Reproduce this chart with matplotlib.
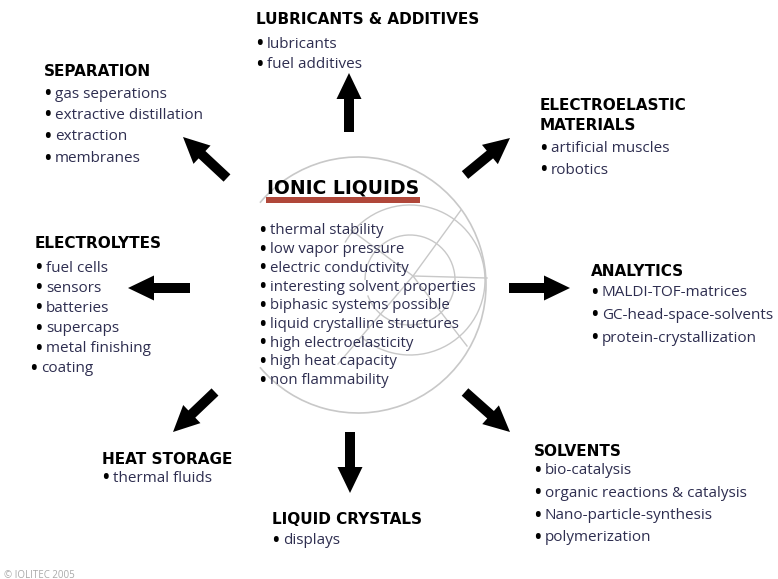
import matplotlib.pyplot as plt
from matplotlib.patches import FancyArrow, Arc, Rectangle

plt.rcParams['font.family'] = ['Open Sans', 'DejaVu Sans']

# ---- content ----
center_title = "IONIC LIQUIDS"
center_items = ["thermal stability", "low vapor pressure", "electric conductivity",
                "interesting solvent properties", "biphasic systems possible",
                "liquid crystalline structures", "high electroelasticity",
                "high heat capacity", "non flammability"]

groups = {
    "lubricants": ["LUBRICANTS & ADDITIVES"],
    "separation": ["SEPARATION"],
    "electroelastic": ["ELECTROELASTIC", "MATERIALS"],
    "electrolytes": ["ELECTROLYTES"],
    "analytics": ["ANALYTICS"],
    "heat": ["HEAT STORAGE"],
    "crystals": ["LIQUID CRYSTALS"],
    "solvents": ["SOLVENTS"],
}
items = {
    "lubricants": ["lubricants", "fuel additives"],
    "separation": ["gas seperations", "extractive distillation", "extraction", "membranes"],
    "electroelastic": ["artificial muscles", "robotics"],
    "electrolytes": ["fuel cells", "sensors", "batteries", "supercaps", "metal finishing", "coating"],
    "analytics": ["MALDI-TOF-matrices", "GC-head-space-solvents", "protein-crystallization"],
    "heat": ["thermal fluids"],
    "crystals": ["displays"],
    "solvents": ["bio-catalysis", "organic reactions & catalysis", "Nano-particle-synthesis", "polymerization"],
}

# ---- layout (pixel coordinates) ----
head_pos = {"lubricants": (256, 20), "separation": (44, 72), "electroelastic": (540, 106),
            "electrolytes": (35, 244), "analytics": (591, 271), "heat": (102, 460),
            "crystals": (272, 520), "solvents": (534, 451)}
first_item_y = {"lubricants": 44, "separation": 94, "electroelastic": 149, "electrolytes": 268,
                "analytics": 293, "heat": 478, "crystals": 541, "solvents": 471}
item_step = {"lubricants": 20.5, "separation": 21.5, "electroelastic": 21, "electrolytes": 20.2,
             "analytics": 22.5, "heat": 19, "crystals": 21, "solvents": 22.3}
# arrows: tail -> tip
arrows = [((349, 132), (349, 73)), ((227, 178), (183, 137)), ((465, 175), (510, 138)),
          ((190, 288), (128, 288)), ((509, 288), (570, 288)), ((215, 392), (173, 432)),
          ((350, 432), (350, 493)), ((465, 392), (510, 432))]

W, H = 778, 579
fig = plt.figure(figsize=(W / 100, H / 100), dpi=100)
ax = fig.add_axes([0, 0, 1, 1])
ax.set_xlim(0, W)
ax.set_ylim(H, 0)
ax.axis('off')

grey = '#c8c8c8'
# big circle (open on the left)
ax.add_patch(Arc((358, 285), 256, 256, theta1=-140, theta2=140, color=grey, lw=1.2))
# inner target motif
ax.add_patch(Arc((410, 280), 150, 150, theta1=-150, theta2=130, color=grey, lw=1))
ax.add_patch(Arc((410, 280), 90, 90, theta1=-180, theta2=160, color=grey, lw=1))
for dx, dy in [(48, -66), (74, 2), (54, 70), (-75, 88), (-62, -46)]:
    ax.plot([413, 413 + dx], [276, 276 + dy], color=grey, lw=1)

for (x0, y0), (x1, y1) in arrows:
    ax.add_patch(FancyArrow(x0, y0, x1 - x0, y1 - y0, width=10, head_width=25,
                            head_length=26, length_includes_head=True,
                            color='black', lw=0))

txt_col = '#2e2e50'


def bullet(x, y, s, size):
    ax.text(x, y, u"\u2022", fontsize=size + 1.5, fontweight='bold', va='center',
            color='black')
    ax.text(x + 11, y, s, fontsize=size, va='center', color=txt_col)


ax.text(267, 188, center_title, fontsize=13.5, fontweight='bold', va='center',
        color='black', family='DejaVu Sans')
ax.add_patch(Rectangle((266, 197), 154, 6, color='#b0473a', lw=0))
for i, s in enumerate(center_items):
    bullet(259, 231 + i * 18.7, s, 10.8)

for k, (hx, hy) in head_pos.items():
    for j, s in enumerate(groups[k]):
        ax.text(hx, hy + j * 20, s, fontsize=11, fontweight='bold', va='center',
                color='black', family='DejaVu Sans')
    y = first_item_y[k]
    for s in items[k]:
        x = hx - 5 if s == "coating" else hx
        bullet(x, y, s, 11)
        y += item_step[k]

ax.text(4, 575, u"\u00a9 IOLITEC 2005", fontsize=7, va='center', color='#aaaaaa')

fig.savefig('out.png', dpi=100, facecolor='white')
